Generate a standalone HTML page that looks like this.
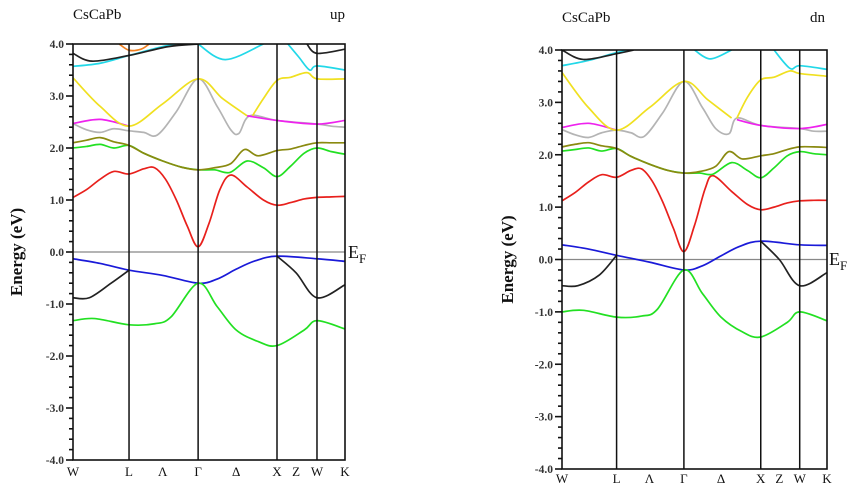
<!DOCTYPE html>
<html><head><meta charset="utf-8"><style>
html,body{margin:0;padding:0;background:#fff;}
svg{display:block;font-family:"Liberation Serif",serif;}
</style></head><body>
<svg id="chart" width="850" height="488" viewBox="0 0 850 488" xmlns="http://www.w3.org/2000/svg"></svg>
<script>
// ---------- data ----------
const kLabels = ["W","L","Λ","Γ","Δ","X","Z","W","K"];
const kLabelPos = [0,0.206,0.33,0.46,0.6,0.75,0.82,0.897,1];
const kLines = [0.206,0.46,0.75,0.897];
const yTicks = [-4,-3,-2,-1,0,1,2,3,4];
const yTickLabels = ["-4.0","-3.0","-2.0","-1.0","0.0","1.0","2.0","3.0","4.0"];

// spin up
const upRedK = [0,0.05,0.1,0.15,0.206,0.26,0.3,0.34,0.38,0.42,0.46,0.5,0.54,0.58,0.64,0.7,0.75,0.8,0.85,0.897,0.95,1];
const upRedE = [1.05,1.2,1.4,1.55,1.5,1.6,1.62,1.4,1.0,0.5,0.1,0.55,1.2,1.48,1.25,1.0,0.9,0.95,1.02,1.05,1.06,1.07];
const upGreenK = [0,0.05,0.1,0.15,0.206,0.26,0.33,0.4,0.46,0.52,0.577,0.64,0.7,0.75,0.8,0.85,0.897,0.95,1];
const upGreenE = [2.0,2.03,2.07,2.0,2.05,1.9,1.75,1.63,1.58,1.58,1.53,1.75,1.62,1.45,1.65,1.9,2.0,1.93,1.88];
const upOliveK = [0,0.05,0.1,0.15,0.206,0.26,0.33,0.4,0.46,0.52,0.58,0.63,0.68,0.75,0.8,0.85,0.897,0.95,1];
const upOliveE = [2.1,2.15,2.2,2.12,2.05,1.9,1.75,1.63,1.58,1.62,1.7,1.97,1.85,1.95,1.98,2.05,2.1,2.1,2.1];
const upGrayK = [0,0.05,0.1,0.15,0.206,0.26,0.31,0.38,0.46,0.53,0.58,0.61,0.65,0.75,0.897,0.95,1];
const upGrayE = [2.47,2.35,2.3,2.37,2.33,2.3,2.25,2.7,3.33,2.8,2.35,2.28,2.62,2.53,2.46,2.42,2.4];
const upMag1K = [0,0.1,0.206];
const upMag1E = [2.47,2.55,2.42];
const upMag2K = [0.64,0.75,0.897,1];
const upMag2E = [2.62,2.53,2.46,2.53];
const upYel1K = [0,0.1,0.206,0.33,0.46,0.55,0.64];
const upYel1E = [3.35,2.8,2.42,2.85,3.33,2.95,2.62];
const upYel2K = [0.66,0.7,0.75,0.8,0.86,0.897,1];
const upYel2E = [2.62,2.95,3.3,3.36,3.45,3.33,3.33];
const upCyan1K = [0,0.1,0.206,0.33,0.4];
const upCyan1E = [3.57,3.63,3.78,3.95,4.02];
const upCyan2K = [0.46,0.56,0.7];
const upCyan2E = [4.0,3.7,4.0];
const upCyan3K = [0.79,0.83,0.87,0.897,1];
const upCyan3E = [4.0,3.75,3.5,3.58,3.5];
const upBlackTopK = [0,0.07,0.206,0.35,0.46];
const upBlackTopE = [3.82,3.67,3.78,3.95,4.0];
const upBlackTop2K = [0.86,0.897,1];
const upBlackTop2E = [4.0,3.82,3.9];
const upOrangeK = [0.17,0.206,0.25,0.28];
const upOrangeE = [4.0,3.88,3.9,4.0];
const upBlueK = [0,0.1,0.206,0.33,0.46,0.53,0.6,0.67,0.75,0.897,1];
const upBlueE = [-0.13,-0.22,-0.35,-0.45,-0.6,-0.52,-0.33,-0.17,-0.08,-0.13,-0.18];
const upBlack1K = [0,0.06,0.14,0.206];
const upBlack1E = [-0.88,-0.88,-0.6,-0.35];
const upBlack2K = [0.75,0.82,0.897,1];
const upBlack2E = [-0.08,-0.4,-0.88,-0.63];
const upGreenLowK = [0,0.08,0.206,0.3,0.36,0.46,0.53,0.6,0.68,0.75,0.85,0.897,1];
const upGreenLowE = [-1.32,-1.28,-1.4,-1.38,-1.25,-0.6,-1.05,-1.5,-1.72,-1.8,-1.5,-1.32,-1.48];

// spin down
const dnRedK = [0,0.05,0.1,0.15,0.206,0.26,0.3,0.34,0.38,0.42,0.46,0.5,0.54,0.57,0.64,0.7,0.75,0.8,0.85,0.897,0.95,1];
const dnRedE = [1.12,1.28,1.48,1.62,1.57,1.7,1.73,1.5,1.1,0.6,0.15,0.65,1.35,1.6,1.3,1.05,0.95,1.0,1.08,1.12,1.13,1.13];
const dnGreenK = [0,0.05,0.1,0.15,0.206,0.26,0.33,0.4,0.46,0.52,0.57,0.64,0.7,0.75,0.8,0.85,0.897,0.95,1];
const dnGreenE = [2.07,2.1,2.13,2.07,2.12,1.97,1.82,1.7,1.65,1.65,1.63,1.85,1.7,1.56,1.75,1.98,2.06,2.02,2.0];
const dnOliveK = [0,0.05,0.1,0.15,0.206,0.26,0.33,0.4,0.46,0.52,0.58,0.63,0.68,0.75,0.8,0.85,0.897,0.95,1];
const dnOliveE = [2.15,2.2,2.23,2.17,2.12,1.97,1.82,1.7,1.65,1.68,1.78,2.06,1.92,1.98,2.02,2.1,2.15,2.15,2.14];
const dnGrayK = [0,0.05,0.1,0.15,0.206,0.26,0.31,0.38,0.46,0.53,0.58,0.63,0.66,0.75,0.897,0.95,1];
const dnGrayE = [2.48,2.38,2.33,2.42,2.47,2.42,2.35,2.8,3.4,2.9,2.5,2.4,2.7,2.56,2.5,2.45,2.45];
const dnMag1K = [0,0.1,0.206];
const dnMag1E = [2.52,2.6,2.47];
const dnMag2K = [0.66,0.75,0.897,1];
const dnMag2E = [2.67,2.56,2.5,2.58];
const dnYel1K = [0,0.1,0.206,0.33,0.46,0.55,0.64];
const dnYel1E = [3.57,2.9,2.47,2.9,3.4,3.05,2.7];
const dnYel2K = [0.66,0.7,0.75,0.8,0.86,0.897,1];
const dnYel2E = [2.7,3.1,3.43,3.48,3.6,3.55,3.5];
const dnCyan1K = [0,0.1,0.206,0.28];
const dnCyan1E = [3.7,3.8,3.95,4.02];
const dnCyan2K = [0.5,0.56,0.64];
const dnCyan2E = [4.0,3.83,4.0];
const dnCyan3K = [0.8,0.86,0.897,1];
const dnCyan3E = [4.0,3.65,3.7,3.63];
const dnBlackTopK = [0,0.08,0.206,0.27];
const dnBlackTopE = [4.0,3.82,3.93,4.0];
const dnBlueK = [0,0.1,0.206,0.33,0.46,0.53,0.6,0.67,0.75,0.897,1];
const dnBlueE = [0.28,0.2,0.08,-0.05,-0.2,-0.12,0.07,0.25,0.35,0.28,0.27];
const dnBlack1K = [0,0.06,0.14,0.206];
const dnBlack1E = [-0.5,-0.5,-0.3,0.08];
const dnBlack2K = [0.75,0.82,0.897,1];
const dnBlack2E = [0.35,0.0,-0.5,-0.25];
const dnGreenLowK = [0,0.08,0.206,0.3,0.36,0.46,0.53,0.6,0.68,0.75,0.85,0.897,1];
const dnGreenLowE = [-1.0,-0.97,-1.1,-1.08,-0.95,-0.2,-0.65,-1.1,-1.38,-1.48,-1.2,-1.0,-1.17];

const C = {red:"#e8201c",green:"#22e022",olive:"#8a8a10",gray:"#b4b4b4",mag:"#ee22ee",yel:"#f0e020",cyan:"#22d8e8",black:"#222",orange:"#f08020",blue:"#1a1ad8"};

const panels = [
 {name:"up",x0:73,x1:345,yTop:44,yBot:460,title:"CsCaPb",tag:"up",titleX:73,titleY:19,tagX:330,efX:348,efY:258,labY:476,axTitleX:22,
  bands:[["red",upRedK,upRedE],["green",upGreenK,upGreenE],["olive",upOliveK,upOliveE],["gray",upGrayK,upGrayE],
   ["mag",upMag1K,upMag1E],["mag",upMag2K,upMag2E],["yel",upYel1K,upYel1E],["yel",upYel2K,upYel2E],
   ["cyan",upCyan1K,upCyan1E],["cyan",upCyan2K,upCyan2E],["cyan",upCyan3K,upCyan3E],
   ["black",upBlackTopK,upBlackTopE],["black",upBlackTop2K,upBlackTop2E],["orange",upOrangeK,upOrangeE],
   ["blue",upBlueK,upBlueE],["black",upBlack1K,upBlack1E],["black",upBlack2K,upBlack2E],["green",upGreenLowK,upGreenLowE]]},
 {name:"dn",x0:562,x1:827,yTop:50,yBot:469,title:"CsCaPb",tag:"dn",titleX:562,titleY:22,tagX:810,efX:829,efY:265,labY:483,axTitleX:513,
  bands:[["red",dnRedK,dnRedE],["green",dnGreenK,dnGreenE],["olive",dnOliveK,dnOliveE],["gray",dnGrayK,dnGrayE],
   ["mag",dnMag1K,dnMag1E],["mag",dnMag2K,dnMag2E],["yel",dnYel1K,dnYel1E],["yel",dnYel2K,dnYel2E],
   ["cyan",dnCyan1K,dnCyan1E],["cyan",dnCyan2K,dnCyan2E],["cyan",dnCyan3K,dnCyan3E],
   ["black",dnBlackTopK,dnBlackTopE],
   ["blue",dnBlueK,dnBlueE],["black",dnBlack1K,dnBlack1E],["black",dnBlack2K,dnBlack2E],["green",dnGreenLowK,dnGreenLowE]]}
];

const NS="http://www.w3.org/2000/svg";
const svg=document.getElementById("chart");
function mk(tag,attrs,parent){const e=document.createElementNS(NS,tag);for(const a in attrs)e.setAttribute(a,attrs[a]);(parent||svg).appendChild(e);return e;}

panels.forEach(p=>{
  const g=mk("g",{});
  
  
  const xs=k=>p.x0+k*(p.x1-p.x0);
  const ys=e=>p.yTop+(4-e)/8*(p.yBot-p.yTop);
  const cp=mk("clipPath",{id:"clip-"+p.name},g);
  mk("rect",{x:p.x0,y:p.yTop,width:p.x1-p.x0,height:p.yBot-p.yTop},cp);

  const t=mk("text",{x:p.titleX,y:p.titleY,"font-size":15,fill:"#111"},g);t.textContent=p.title;
  
  
  const tg=mk("text",{x:p.tagX,y:p.titleY,"font-size":15,fill:"#111"},g);tg.textContent=p.tag;
  
  

  const cy=(p.yTop+p.yBot)/2;
  const yt=mk("text",{x:p.axTitleX,y:cy,"font-size":17,"font-weight":"bold","text-anchor":"middle",transform:`rotate(-90 ${p.axTitleX} ${cy})`,fill:"#111"},g);
  yt.textContent="Energy (eV)";
  
  

  for(let v=-4;v<=4.001;v+=0.2){
    const major=Math.abs(v-Math.round(v))<1e-6;
    const tk=mk("line",{x1:p.x0-(major?7:4),x2:p.x0,y1:ys(v),y2:ys(v),stroke:"#111","stroke-width":1.6},g);
    
    
  }
  yTicks.forEach((v,i)=>{
    const tl=mk("text",{x:p.x0-9,y:ys(v)+4,"font-size":11.5,"font-weight":"bold","text-anchor":"end",fill:"#333"},g);
    tl.textContent=yTickLabels[i];
    
    
  });

  const ef=mk("line",{x1:p.x0,x2:p.x1,y1:ys(0),y2:ys(0),stroke:"#888","stroke-width":1.3},g);
  
  
  const eft=mk("text",{x:p.efX,y:p.efY,"font-size":18,fill:"#111"},g);
  eft.innerHTML='E<tspan font-size="13" dy="5">F</tspan>';
  
  

  const bg=mk("g",{"clip-path":`url(#clip-${p.name})`},g);
  p.bands.forEach(([col,K,E])=>{
    const pts=K.map((k,i)=>[xs(k),ys(E[i])]);
    let d=`M${pts[0][0]},${pts[0][1]}`;
    for(let i=0;i<pts.length-1;i++){
      const p0=pts[Math.max(i-1,0)],p1=pts[i],p2=pts[i+1],p3=pts[Math.min(i+2,pts.length-1)];
      const c1=[p1[0]+(p2[0]-p0[0])/6,p1[1]+(p2[1]-p0[1])/6];
      const c2=[p2[0]-(p3[0]-p1[0])/6,p2[1]-(p3[1]-p1[1])/6];
      d+=`C${c1[0]},${c1[1]} ${c2[0]},${c2[1]} ${p2[0]},${p2[1]}`;
    }
    const path=mk("path",{d:d,fill:"none",stroke:C[col],"stroke-width":1.7},bg);
    
    
  });

  kLines.forEach(k=>{
    const l=mk("line",{x1:xs(k),x2:xs(k),y1:p.yTop,y2:p.yBot,stroke:"#111","stroke-width":1.5},g);
    
    
  });
  const fr=mk("rect",{x:p.x0,y:p.yTop,width:p.x1-p.x0,height:p.yBot-p.yTop,fill:"none",stroke:"#111","stroke-width":1.6},g);
  
  

  kLabels.forEach((s,i)=>{
    const kl=mk("text",{x:xs(kLabelPos[i]),y:p.labY,"font-size":13,"text-anchor":"middle",fill:"#111"},g);
    kl.textContent=s;
    
    
  });
});
</script>
</body></html>
